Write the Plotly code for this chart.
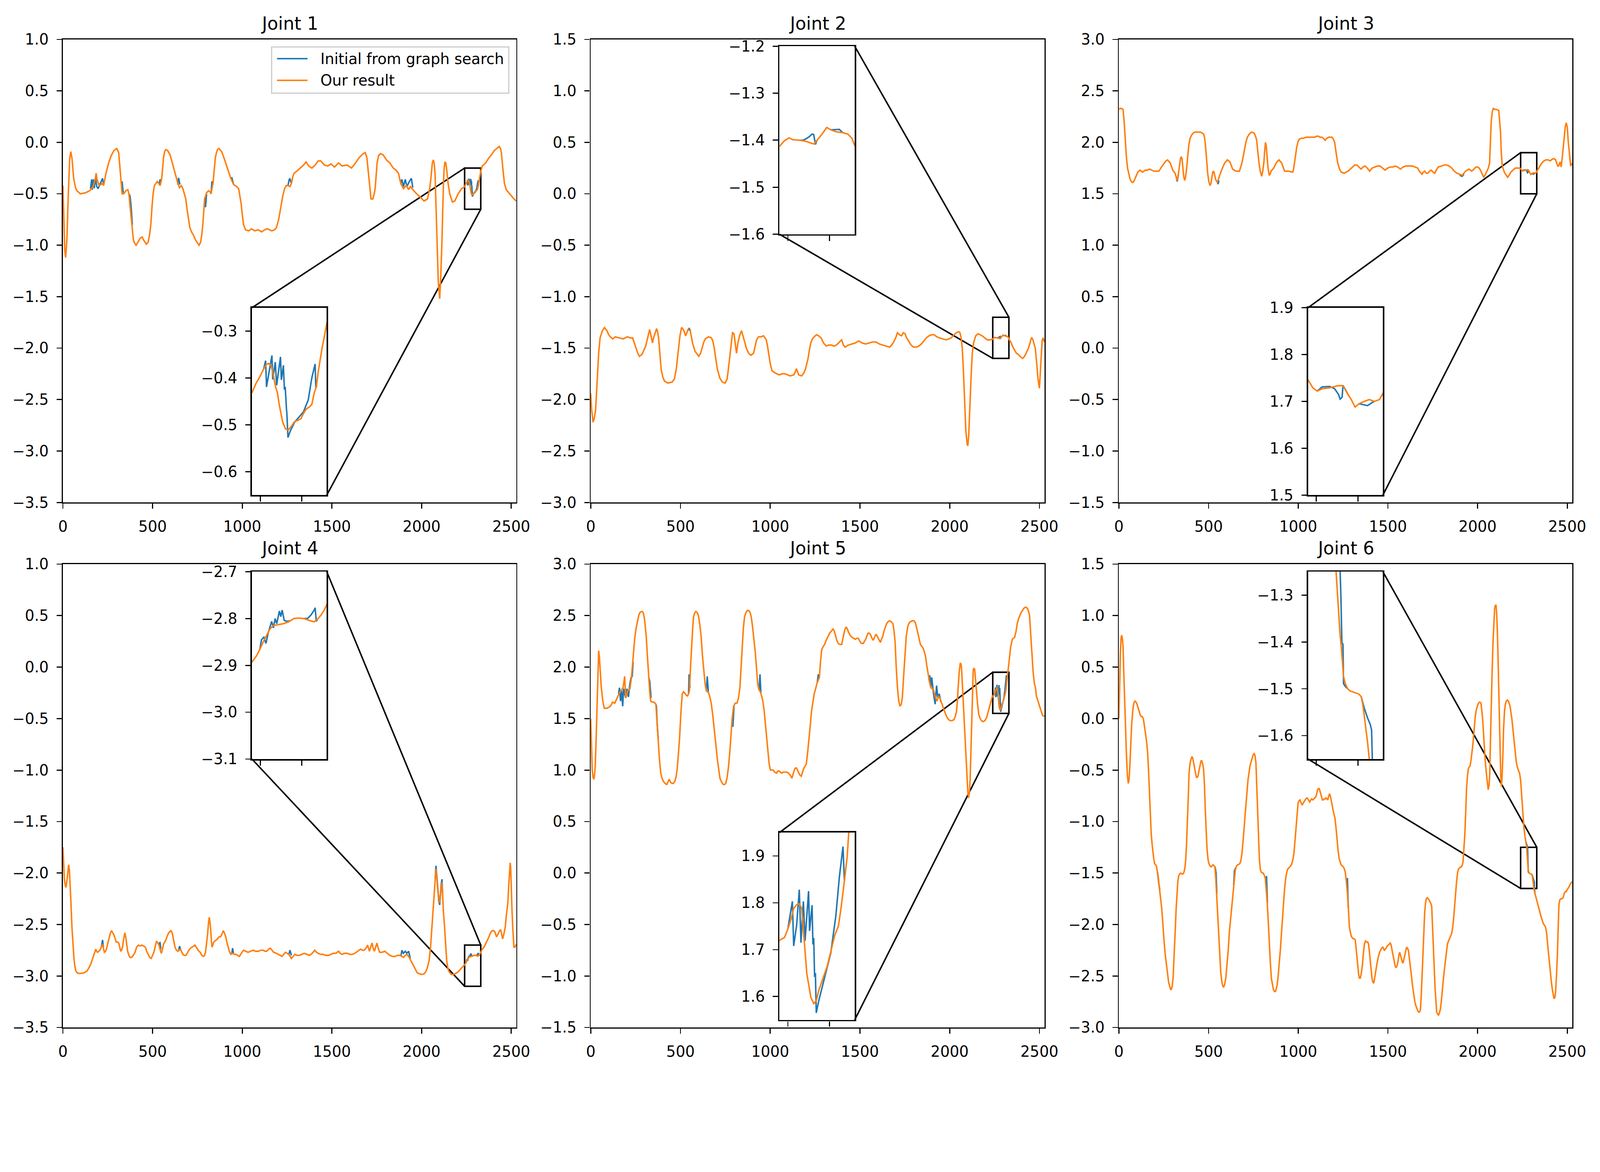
import plotly.graph_objects as go

# matplotlib default colours
C_INIT = '#1f77b4'
C_OURS = '#ff7f0e'

# ---------------- Joint 1 ----------------
j1_ours = [(0,-0.42),(5,-0.75),(10,-1.05),(15,-1.12),(22,-0.95),(30,-0.5),(38,-0.15),(44,-0.09),(50,-0.15),(60,-0.35),
    (70,-0.44),(78,-0.47),(97,-0.5),(126,-0.49),(149,-0.47),(160,-0.45),(170,-0.42),(180,-0.36),(185,-0.3),(190,-0.36),
    (202,-0.42),(212,-0.41),(221,-0.4),(227,-0.42),(240,-0.3),(255,-0.2),(269,-0.13),(284,-0.08),(294,-0.065),(300,-0.06),
    (311,-0.1),(320,-0.3),(330,-0.5),(339,-0.5),(351,-0.47),(362,-0.46),(368,-0.5),(376,-0.65),(385,-0.8),(393,-0.95),
    (400,-0.98),(408,-1.0),(418,-0.97),(431,-0.93),(442,-0.92),(450,-0.95),(465,-0.99),(475,-0.97),(483,-0.9),(490,-0.8),
    (497,-0.62),(503,-0.5),(510,-0.42),(517,-0.4),(526,-0.38),(534,-0.4),(542,-0.42),(551,-0.35),(556,-0.25),(561,-0.15),
    (567,-0.09),(574,-0.07),(584,-0.08),(597,-0.12),(610,-0.2),(625,-0.3),(641,-0.4),(650,-0.44),(660,-0.42),(669,-0.45),
    (677,-0.5),(685,-0.55),(692,-0.65),(700,-0.75),(708,-0.83),(717,-0.87),(727,-0.9),(740,-0.95),(750,-0.98),(759,-1.0),
    (768,-0.97),(774,-0.9),(780,-0.8),(785,-0.67),(790,-0.55),(801,-0.49),(812,-0.47),(820,-0.48),(826,-0.5),(831,-0.45),
    (837,-0.4),(843,-0.28),(850,-0.15),(856,-0.1),(862,-0.07),(870,-0.06),(885,-0.09),(898,-0.15),(917,-0.25),(936,-0.35),
    (952,-0.41),(969,-0.43),(980,-0.45),(987,-0.52),(994,-0.6),(1000,-0.7),(1007,-0.8),(1018,-0.85),(1037,-0.86),(1051,-0.84),
    (1070,-0.86),(1089,-0.85),(1108,-0.87),(1125,-0.85),(1140,-0.84),(1165,-0.86),(1180,-0.85),(1190,-0.83),(1203,-0.75),
    (1210,-0.68),(1217,-0.6),(1226,-0.52),(1236,-0.45),(1246,-0.42),(1255,-0.42),(1266,-0.43),(1274,-0.4),(1282,-0.33),
    (1289,-0.3),(1304,-0.28),(1323,-0.25),(1342,-0.22),(1356,-0.19),(1371,-0.23),(1388,-0.25),(1407,-0.22),(1423,-0.18),
    (1438,-0.18),(1457,-0.22),(1476,-0.23),(1495,-0.21),(1514,-0.24),(1537,-0.2),(1556,-0.23),(1585,-0.22),(1609,-0.25),
    (1632,-0.2),(1651,-0.15),(1674,-0.11),(1686,-0.1),(1695,-0.15),(1702,-0.28),(1709,-0.4),(1718,-0.55),(1728,-0.55),
    (1736,-0.5),(1741,-0.45),(1747,-0.3),(1752,-0.2),(1760,-0.13),(1770,-0.11),(1785,-0.12),(1804,-0.17),(1823,-0.2),
    (1842,-0.25),(1857,-0.27),(1871,-0.3),(1884,-0.4),(1899,-0.45),(1915,-0.42),(1928,-0.46),(1937,-0.43),(1957,-0.47),
    (1972,-0.5),(1991,-0.53),(2014,-0.57),(2033,-0.55),(2045,-0.45),(2052,-0.35),(2060,-0.2),(2065,-0.17),(2070,-0.2),
    (2075,-0.3),(2080,-0.6),(2086,-1.0),(2093,-1.35),(2101,-1.52),(2107,-1.3),(2113,-1.0),(2118,-0.65),(2122,-0.4),
    (2126,-0.25),(2130,-0.19),(2135,-0.2),(2139,-0.25),(2148,-0.4),(2157,-0.5),(2172,-0.58),(2185,-0.57),(2204,-0.5),
    (2223,-0.45),(2232,-0.44),(2240,-0.431),(2245.5,-0.409),(2247.6,-0.4035),(2251,-0.392),(2254,-0.381),(2257.5,-0.371),
    (2260,-0.369),(2263,-0.374),(2265,-0.387),(2268.4,-0.419),(2270.6,-0.431),(2272.8,-0.457),(2275,-0.479),(2277,-0.4945),
    (2280.4,-0.5087),(2283.7,-0.511),(2287,-0.504),(2291.3,-0.493),(2295.7,-0.49),(2299,-0.4866),(2302,-0.4756),
    (2305.5,-0.466),(2309,-0.462),(2312,-0.4566),(2315,-0.431),(2317.5,-0.419),(2319.7,-0.387),(2324,-0.34),(2330,-0.284),
    (2338,-0.23),(2357,-0.2),(2376,-0.15),(2390,-0.12),(2405,-0.08),(2420,-0.06),(2433,-0.04),(2440,-0.06),(2445,-0.1),
    (2453,-0.25),(2462,-0.4),(2472,-0.46),(2481,-0.48),(2491,-0.5),(2500,-0.52),(2515,-0.55),(2528,-0.57)]
j1_init = [
    [(154,-0.45),(160,-0.36),(164,-0.46),(170,-0.36),(175,-0.445),(181,-0.345),(189,-0.43),(196,-0.45),(206,-0.41),
     (215,-0.37),(221,-0.35),(227,-0.42)],
    [(326,-0.42),(330,-0.38),(336,-0.49)],
    [(368,-0.5),(374,-0.52),(380,-0.62),(387,-0.8)],
    [(536,-0.41),(542,-0.36),(548,-0.38)],
    [(640,-0.41),(645,-0.345),(652,-0.41)],
    [(790,-0.55),(795,-0.63),(801,-0.5)],
    [(826,-0.5),(831,-0.38),(837,-0.4)],
    [(936,-0.35),(942,-0.345),(952,-0.41)],
    [(1255,-0.42),(1262,-0.36),(1266,-0.355),(1274,-0.4)],
    [(1884,-0.4),(1890,-0.36),(1899,-0.43),(1909,-0.36),(1918,-0.43),(1932,-0.38),(1943,-0.35),(1951,-0.44)],
    [(2254,-0.381),(2256.4,-0.363),(2257.5,-0.419),(2264,-0.352),(2265,-0.403),(2268,-0.366),(2269.7,-0.4155),
     (2274.3,-0.355),(2275.4,-0.404),(2277.8,-0.373),(2279,-0.425),(2280,-0.419),(2281.5,-0.466),(2282,-0.4756),
     (2283.3,-0.527),(2286,-0.5136),(2291.3,-0.4945),(2302,-0.472),(2307.7,-0.447),(2312,-0.4),(2316,-0.37),
     (2316.8,-0.419),(2317.5,-0.419)],
]

# ---------------- Joint 2 ----------------
j2_ours = [(0,-1.94),(5,-2.1),(13,-2.22),(20,-2.18),(27,-2.1),(32,-1.95),(36,-1.8),(44,-1.55),(52,-1.4),(65,-1.33),
    (76,-1.3),(90,-1.33),(100,-1.37),(109,-1.39),(122,-1.41),(137,-1.39),(157,-1.4),(180,-1.41),(204,-1.39),(220,-1.4),
    (233,-1.4),(243,-1.45),(252,-1.5),(262,-1.55),(271,-1.58),(286,-1.56),(306,-1.48),(319,-1.38),(328,-1.32),(336,-1.38),
    (344,-1.45),(350,-1.4),(357,-1.36),(367,-1.31),(372,-1.34),(378,-1.4),(385,-1.55),(392,-1.7),(401,-1.78),(411,-1.82),
    (430,-1.84),(453,-1.83),(466,-1.8),(477,-1.7),(483,-1.6),(489,-1.5),(497,-1.38),(506,-1.3),(512,-1.31),(519,-1.33),
    (529,-1.38),(542,-1.32),(554,-1.33),(560,-1.38),(567,-1.45),(581,-1.53),(602,-1.58),(612,-1.55),(621,-1.5),(630,-1.44),
    (638,-1.41),(657,-1.39),(672,-1.4),(680,-1.43),(688,-1.5),(696,-1.6),(705,-1.7),(719,-1.79),(733,-1.83),(749,-1.84),
    (760,-1.8),(767,-1.7),(773,-1.6),(782,-1.45),(790,-1.35),(798,-1.36),(805,-1.45),(812,-1.55),(820,-1.45),(829,-1.38),
    (840,-1.33),(852,-1.4),(867,-1.5),(880,-1.55),(892,-1.57),(907,-1.55),(916,-1.48),(924,-1.42),(935,-1.39),(949,-1.39),
    (963,-1.38),(978,-1.42),(985,-1.48),(991,-1.55),(1000,-1.65),(1010,-1.72),(1026,-1.74),(1038,-1.75),(1050,-1.76),
    (1065,-1.75),(1083,-1.75),(1097,-1.76),(1111,-1.77),(1131,-1.76),(1140,-1.73),(1146,-1.7),(1152,-1.73),(1159,-1.76),
    (1175,-1.77),(1188,-1.74),(1197,-1.7),(1204,-1.65),(1211,-1.6),(1218,-1.52),(1226,-1.45),(1235,-1.41),(1245,-1.39),
    (1258,-1.37),(1270,-1.38),(1283,-1.4),(1297,-1.45),(1312,-1.48),(1326,-1.47),(1341,-1.47),(1355,-1.48),(1369,-1.47),
    (1385,-1.44),(1398,-1.42),(1408,-1.47),(1417,-1.49),(1436,-1.47),(1455,-1.46),(1474,-1.45),(1493,-1.43),(1512,-1.45),
    (1532,-1.46),(1550,-1.45),(1570,-1.44),(1589,-1.44),(1608,-1.46),(1627,-1.47),(1646,-1.48),(1665,-1.49),(1677,-1.47),
    (1688,-1.44),(1699,-1.4),(1709,-1.35),(1720,-1.37),(1732,-1.38),(1742,-1.35),(1751,-1.36),(1760,-1.4),(1770,-1.43),
    (1785,-1.47),(1799,-1.49),(1814,-1.49),(1828,-1.48),(1842,-1.46),(1856,-1.43),(1870,-1.4),(1885,-1.38),(1900,-1.37),
    (1914,-1.37),(1928,-1.39),(1942,-1.4),(1961,-1.41),(1981,-1.42),(1995,-1.41),(2009,-1.4),(2024,-1.37),(2038,-1.35),
    (2050,-1.34),(2057,-1.35),(2064,-1.4),(2070,-1.5),(2076,-1.7),(2082,-2.0),(2090,-2.3),(2097,-2.43),(2101,-2.45),
    (2106,-2.35),(2110,-2.15),(2114,-2.0),(2120,-1.75),(2126,-1.55),(2133,-1.45),(2145,-1.38),(2158,-1.36),(2170,-1.37),
    (2181,-1.38),(2195,-1.4),(2210,-1.42),(2225,-1.42),(2233,-1.415),(2240,-1.413),(2246,-1.401),(2251.5,-1.395),
    (2256,-1.399),(2264.5,-1.4),(2272.7,-1.403),(2279,-1.407),(2281.7,-1.408),(2285,-1.4),(2291,-1.387),(2296.5,-1.373),
    (2301.4,-1.378),(2307.5,-1.382),(2315.7,-1.384),(2321.8,-1.387),(2326.7,-1.396),(2330,-1.411),(2336,-1.43),
    (2343,-1.45),(2352,-1.49),(2362,-1.52),(2372,-1.55),(2381,-1.56),(2392,-1.58),(2406,-1.6),(2413,-1.59),(2420,-1.57),
    (2430,-1.53),(2439,-1.5),(2448,-1.45),(2453,-1.41),(2458,-1.4),(2464,-1.42),(2470,-1.46),(2477,-1.5),(2485,-1.65),
    (2492,-1.8),(2500,-1.89),(2506,-1.7),(2511,-1.5),(2515,-1.43),(2520,-1.4),(2528,-1.44)]
j2_init = [
    [(540,-1.33),(548,-1.31),(556,-1.33)],
    [(2264.5,-1.4),(2268.6,-1.4),(2272.7,-1.396),(2276,-1.392),(2279,-1.387),(2281,-1.388),(2283,-1.409),(2285,-1.4)],
    [(2301.4,-1.378),(2307.5,-1.377),(2311.6,-1.377),(2315.7,-1.384)],
]

# ---------------- Joint 3 ----------------
j3_ours = [(0,2.32),(6,2.33),(13,2.33),(23,2.32),(29,2.2),(36,2.0),(42,1.85),(48,1.75),(55,1.69),(61,1.65),(68,1.62),
    (76,1.61),(83,1.62),(90,1.65),(98,1.68),(105,1.71),(118,1.73),(132,1.71),(147,1.73),(160,1.73),(170,1.74),(182,1.73),
    (195,1.72),(210,1.72),(223,1.72),(237,1.76),(252,1.8),(262,1.82),(271,1.83),(286,1.8),(300,1.73),(313,1.7),(320,1.66),
    (325,1.63),(332,1.7),(338,1.78),(344,1.85),(348,1.86),(352,1.84),(356,1.76),(362,1.66),(367,1.63),(371,1.66),(376,1.72),
    (383,1.86),(390,1.98),(397,2.04),(405,2.07),(414,2.09),(424,2.1),(440,2.1),(453,2.1),(465,2.09),(472,2.08),(477,2.05),
    (481,2.0),(488,1.85),(495,1.7),(501,1.62),(508,1.58),(513,1.6),(518,1.66),(523,1.71),(529,1.72),(534,1.68),(539,1.64),
    (548,1.61),(555,1.64),(562,1.68),(570,1.72),(577,1.75),(590,1.8),(605,1.83),(619,1.81),(627,1.77),(634,1.74),(653,1.72),
    (672,1.72),(686,1.8),(693,1.87),(701,1.95),(708,2.0),(716,2.05),(727,2.08),(739,2.1),(754,2.09),(762,2.06),(768,2.02),
    (775,1.9),(781,1.8),(788,1.72),(796,1.67),(802,1.72),(808,1.8),(812,1.9),(817,2.0),(821,1.97),(825,1.9),(831,1.76),
    (838,1.68),(843,1.69),(848,1.72),(863,1.75),(877,1.8),(892,1.83),(907,1.8),(915,1.76),(924,1.72),(945,1.72),(968,1.71),
    (973,1.73),(978,1.78),(984,1.86),(991,1.95),(998,2.0),(1005,2.03),(1017,2.04),(1029,2.04),(1045,2.05),(1064,2.05),
    (1078,2.05),(1092,2.05),(1102,2.06),(1112,2.06),(1122,2.05),(1131,2.05),(1140,2.04),(1150,2.02),(1160,2.04),(1170,2.05),
    (1180,2.05),(1188,2.05),(1196,2.03),(1203,2.0),(1211,1.9),(1220,1.8),(1230,1.74),(1240,1.71),(1255,1.7),(1266,1.71),
    (1278,1.72),(1290,1.74),(1303,1.76),(1315,1.78),(1327,1.78),(1338,1.76),(1350,1.74),(1361,1.76),(1373,1.77),(1385,1.75),
    (1398,1.72),(1412,1.75),(1427,1.76),(1441,1.77),(1456,1.77),(1470,1.75),(1484,1.73),(1498,1.75),(1513,1.76),(1527,1.76),
    (1541,1.77),(1555,1.76),(1570,1.74),(1584,1.76),(1599,1.77),(1618,1.77),(1637,1.77),(1651,1.76),(1666,1.75),(1675,1.72),
    (1684,1.7),(1690,1.69),(1697,1.71),(1705,1.72),(1714,1.7),(1723,1.7),(1732,1.72),(1742,1.73),(1752,1.71),(1761,1.7),
    (1770,1.73),(1780,1.76),(1799,1.77),(1814,1.78),(1828,1.78),(1842,1.77),(1856,1.75),(1870,1.72),(1885,1.7),(1900,1.69),
    (1914,1.68),(1924,1.7),(1933,1.72),(1952,1.74),(1967,1.72),(1980,1.74),(1990,1.76),(2000,1.76),(2009,1.75),(2016,1.73),
    (2023,1.7),(2034,1.66),(2044,1.69),(2053,1.72),(2060,1.75),(2067,1.8),(2072,2.0),(2076,2.2),(2082,2.3),(2088,2.33),
    (2098,2.32),(2105,2.32),(2118,2.31),(2123,2.2),(2128,2.1),(2132,1.9),(2137,1.78),(2145,1.73),(2152,1.7),(2160,1.68),
    (2168,1.66),(2176,1.68),(2185,1.71),(2197,1.73),(2210,1.75),(2225,1.75),(2233,1.75),(2240,1.746),(2245.8,1.729),
    (2251,1.722),(2257,1.727),(2266,1.729),(2274.5,1.733),(2281,1.734),(2283.6,1.729),(2288,1.715),(2292,1.704),
    (2296.5,1.688),(2301.4,1.695),(2307.5,1.7),(2313.6,1.704),(2319.7,1.7),(2325.9,1.704),(2330,1.717),(2343,1.76),
    (2351,1.78),(2359,1.8),(2370,1.82),(2382,1.83),(2393,1.83),(2404,1.82),(2412,1.83),(2420,1.84),(2428,1.84),(2435,1.83),
    (2443,1.79),(2448,1.77),(2452,1.77),(2457,1.8),(2460,1.81),(2463,1.79),(2466,1.76),(2472,1.85),(2477,1.95),(2483,2.05),
    (2489,2.15),(2494,2.19),(2500,2.15),(2506,2.0),(2512,1.88),(2519,1.77),(2528,1.8)]
j3_init = [
    [(320,1.66),(325,1.62),(332,1.69)],
    [(548,1.6),(553,1.6),(558,1.63)],
    [(1900,1.68),(1914,1.67),(1924,1.69)],
    [(2251,1.722),(2257,1.731),(2266,1.732),(2272,1.727),(2276.6,1.715),(2278.6,1.705),(2281,1.709),(2282,1.734),
     (2285,1.725),(2289,1.712)],
    [(2301.4,1.695),(2307.5,1.693),(2311.6,1.691),(2316.5,1.697),(2319.7,1.7)],
]

# ---------------- Joint 4 ----------------
j4_ours = [(0,-1.75),(4,-1.9),(8,-2.06),(13,-2.12),(17,-2.14),(22,-2.08),(27,-1.99),(32,-1.92),(36,-1.97),(40,-2.09),
    (45,-2.3),(50,-2.52),(55,-2.68),(61,-2.82),(66,-2.9),(72,-2.95),(80,-2.97),(88,-2.975),(100,-2.975),(116,-2.97),
    (126,-2.96),(135,-2.95),(145,-2.92),(154,-2.89),(162,-2.85),(170,-2.81),(176,-2.77),(183,-2.74),(188,-2.76),(193,-2.77),
    (200,-2.76),(206,-2.75),(214,-2.72),(221,-2.69),(226,-2.73),(231,-2.77),(238,-2.76),(244,-2.73),(252,-2.67),(259,-2.62),
    (265,-2.58),(271,-2.56),(277,-2.58),(284,-2.6),(290,-2.63),(297,-2.67),(304,-2.67),(311,-2.68),(317,-2.72),(322,-2.76),
    (327,-2.75),(332,-2.72),(338,-2.65),(345,-2.58),(350,-2.62),(355,-2.69),(361,-2.76),(368,-2.8),(375,-2.82),(383,-2.82),
    (392,-2.8),(402,-2.77),(411,-2.72),(421,-2.7),(430,-2.71),(440,-2.7),(450,-2.71),(460,-2.72),(467,-2.76),(475,-2.79),
    (484,-2.82),(492,-2.83),(500,-2.8),(507,-2.77),(514,-2.72),(522,-2.66),(529,-2.68),(536,-2.7),(543,-2.75),(549,-2.78),
    (555,-2.74),(561,-2.69),(568,-2.67),(574,-2.65),(580,-2.62),(587,-2.59),(595,-2.57),(603,-2.56),(609,-2.58),(614,-2.62),
    (620,-2.67),(625,-2.72),(633,-2.75),(641,-2.76),(648,-2.75),(656,-2.74),(663,-2.77),(669,-2.79),(677,-2.8),(685,-2.8),
    (693,-2.78),(702,-2.75),(711,-2.73),(721,-2.72),(729,-2.71),(736,-2.7),(744,-2.72),(751,-2.74),(758,-2.76),(765,-2.77),
    (775,-2.8),(784,-2.81),(790,-2.8),(795,-2.77),(800,-2.7),(807,-2.59),(812,-2.48),(816,-2.43),(820,-2.48),(824,-2.55),
    (828,-2.66),(831,-2.72),(836,-2.7),(841,-2.67),(848,-2.66),(854,-2.65),(862,-2.64),(870,-2.62),(877,-2.62),(883,-2.61),
    (889,-2.58),(894,-2.56),(900,-2.58),(908,-2.62),(914,-2.67),(921,-2.72),(928,-2.76),(936,-2.79),(946,-2.78),(955,-2.79),
    (965,-2.79),(975,-2.8),(984,-2.81),(995,-2.78),(1007,-2.75),(1020,-2.76),(1032,-2.77),(1046,-2.76),(1060,-2.75),
    (1075,-2.76),(1089,-2.76),(1103,-2.75),(1117,-2.75),(1127,-2.76),(1136,-2.76),(1147,-2.74),(1156,-2.73),(1166,-2.75),
    (1175,-2.77),(1190,-2.78),(1203,-2.79),(1212,-2.8),(1222,-2.81),(1232,-2.79),(1241,-2.77),(1250,-2.78),(1260,-2.79),
    (1267,-2.81),(1274,-2.83),(1284,-2.81),(1293,-2.79),(1305,-2.8),(1318,-2.8),(1332,-2.79),(1346,-2.78),(1360,-2.79),
    (1375,-2.8),(1390,-2.78),(1404,-2.75),(1414,-2.77),(1423,-2.78),(1437,-2.79),(1451,-2.79),(1465,-2.8),(1480,-2.8),
    (1494,-2.79),(1508,-2.78),(1522,-2.78),(1537,-2.76),(1547,-2.78),(1556,-2.79),(1570,-2.78),(1585,-2.78),(1599,-2.79),
    (1613,-2.79),(1628,-2.78),(1642,-2.76),(1651,-2.75),(1661,-2.74),(1670,-2.75),(1680,-2.75),(1690,-2.73),(1699,-2.7),
    (1704,-2.73),(1709,-2.76),(1716,-2.72),(1724,-2.68),(1730,-2.73),(1737,-2.76),(1744,-2.72),(1751,-2.68),(1758,-2.73),
    (1766,-2.77),(1780,-2.77),(1795,-2.76),(1809,-2.78),(1823,-2.8),(1838,-2.81),(1852,-2.81),(1866,-2.8),(1880,-2.8),
    (1890,-2.81),(1899,-2.82),(1909,-2.8),(1918,-2.79),(1928,-2.81),(1937,-2.84),(1947,-2.87),(1957,-2.9),(1966,-2.93),
    (1976,-2.97),(1990,-2.98),(2004,-2.985),(2014,-2.98),(2023,-2.96),(2032,-2.92),(2042,-2.85),(2050,-2.72),(2057,-2.55),
    (2064,-2.35),(2071,-2.19),(2076,-2.05),(2080,-1.96),(2085,-2.05),(2090,-2.16),(2096,-2.24),(2101,-2.29),(2106,-2.2),
    (2110,-2.12),(2113,-2.09),(2117,-2.2),(2122,-2.38),(2128,-2.52),(2134,-2.7),(2140,-2.85),(2146,-2.92),(2151,-2.95),
    (2158,-2.97),(2166,-2.985),(2175,-2.985),(2185,-2.98),(2195,-2.97),(2204,-2.96),(2214,-2.94),(2223,-2.92),(2232,-2.905),
    (2240,-2.893),(2245.3,-2.88),(2249.4,-2.866),(2253.5,-2.85),(2257.6,-2.836),(2261.7,-2.822),(2265.8,-2.815),
    (2272,-2.813),(2278,-2.811),(2284,-2.807),(2290.3,-2.8),(2296.5,-2.799),(2302.6,-2.8),(2308.7,-2.804),(2314.9,-2.807),
    (2319,-2.801),(2323,-2.793),(2327,-2.782),(2330,-2.771),(2338,-2.74),(2348,-2.72),(2357,-2.69),(2366,-2.66),(2373,-2.63),
    (2380,-2.6),(2388,-2.57),(2395,-2.56),(2402,-2.56),(2408,-2.57),(2413,-2.6),(2418,-2.62),(2424,-2.6),(2429,-2.58),
    (2435,-2.56),(2441,-2.55),(2446,-2.6),(2452,-2.64),(2458,-2.6),(2463,-2.55),(2467,-2.52),(2472,-2.42),(2477,-2.35),
    (2481,-2.29),(2485,-2.15),(2490,-1.99),(2494,-1.9),(2497,-1.95),(2500,-2.15),(2504,-2.35),(2509,-2.55),(2515,-2.72),
    (2521,-2.72),(2528,-2.69)]
j4_init = [
    [(214,-2.72),(221,-2.65),(226,-2.72)],
    [(536,-2.7),(541,-2.67),(546,-2.74)],
    [(646,-2.75),(650,-2.71),(656,-2.74)],
    [(941,-2.79),(946,-2.73),(951,-2.78)],
    [(1260,-2.79),(1266,-2.75),(1274,-2.8)],
    [(1885,-2.81),(1890,-2.75),(1899,-2.78),(1909,-2.76),(1918,-2.78),(1928,-2.76),(1937,-2.83)],
    [(2076,-2.05),(2080,-1.93),(2085,-2.03),(2090,-2.15),(2096,-2.27),(2101,-2.31),(2106,-2.2),(2110,-2.1),(2114,-2.06),
     (2117,-2.2)],
    [(2249.4,-2.866),(2251.5,-2.845),(2254.3,-2.84),(2256.8,-2.853),(2259.6,-2.83),(2263.7,-2.806),(2265.8,-2.82),
     (2267.8,-2.8),(2269.8,-2.811),(2273,-2.784),(2274.7,-2.796),(2276.3,-2.782),(2278.8,-2.804),(2282,-2.806),
     (2286,-2.805)],
    [(2302.6,-2.8),(2306.7,-2.8),(2310.8,-2.793),(2314.9,-2.782),(2316,-2.777),(2317.4,-2.806),(2319,-2.801)],
]

# ---------------- Joint 5 ----------------
j5_ours = [(0,1.5),(4,1.2),(8,1.0),(13,0.93),(17,0.91),(21,0.95),(25,1.04),(30,1.3),(34,1.57),(39,1.9),(44,2.16),(48,2.1),
    (53,1.97),(58,1.82),(65,1.7),(70,1.64),(76,1.6),(90,1.6),(100,1.61),(109,1.62),(116,1.64),(122,1.66),(134,1.65),
    (147,1.7),(160,1.75),(172,1.78),(180,1.8),(185,1.86),(189,1.91),(192,1.8),(195,1.7),(200,1.73),(206,1.77),(218,1.79),
    (227,1.9),(233,2.03),(239,2.17),(245,2.28),(252,2.37),(260,2.45),(267,2.5),(274,2.53),(281,2.54),(288,2.54),(294,2.52),
    (300,2.46),(305,2.38),(309,2.3),(316,2.1),(323,1.9),(329,1.75),(334,1.67),(343,1.66),(351,1.66),(357,1.65),(363,1.64),
    (368,1.5),(372,1.38),(376,1.27),(383,1.1),(390,0.97),(397,0.92),(405,0.89),(414,0.87),(424,0.86),(430,0.88),(437,0.91),
    (445,0.88),(453,0.87),(460,0.87),(468,0.89),(475,0.93),(481,1.0),(488,1.15),(495,1.31),(502,1.55),(510,1.74),(517,1.76),
    (523,1.75),(531,1.73),(539,1.72),(545,1.74),(550,1.77),(556,2.0),(562,2.2),(568,2.38),(573,2.49),(580,2.53),(586,2.54),
    (593,2.53),(600,2.5),(607,2.42),(615,2.3),(622,2.12),(630,1.97),(637,1.84),(644,1.77),(650,1.76),(657,1.75),(665,1.7),
    (672,1.64),(680,1.53),(688,1.41),(697,1.25),(705,1.11),(713,1.0),(720,0.92),(730,0.88),(739,0.86),(746,0.86),(752,0.87),
    (760,0.93),(768,1.04),(775,1.18),(781,1.34),(788,1.5),(796,1.62),(805,1.65),(815,1.65),(823,1.7),(831,1.8),(838,2.0),
    (844,2.2),(850,2.37),(857,2.49),(865,2.53),(873,2.55),(881,2.55),(888,2.53),(895,2.48),(901,2.4),(909,2.27),(917,2.14),
    (924,1.98),(930,1.84),(937,1.78),(945,1.76),(952,1.72),(959,1.67),(966,1.58),(972,1.47),(980,1.32),(987,1.17),(994,1.06),
    (1001,1.0),(1008,1.0),(1016,1.0),(1025,0.98),(1035,0.97),(1042,0.99),(1050,0.99),(1057,0.98),(1064,0.97),(1073,0.98),
    (1083,0.98),(1092,0.98),(1102,0.97),(1112,0.95),(1121,0.92),(1127,0.96),(1134,1.0),(1140,1.02),(1146,1.02),(1152,1.0),
    (1159,0.97),(1166,0.95),(1173,0.94),(1180,0.98),(1188,1.02),(1195,1.04),(1201,1.06),(1209,1.18),(1217,1.31),(1224,1.45),
    (1230,1.57),(1238,1.67),(1245,1.74),(1253,1.79),(1260,1.84),(1267,1.87),(1274,1.9),(1280,2.05),(1287,2.17),(1295,2.2),
    (1303,2.22),(1312,2.26),(1322,2.3),(1331,2.33),(1341,2.35),(1350,2.37),(1357,2.35),(1364,2.3),(1371,2.26),(1379,2.23),
    (1388,2.22),(1398,2.22),(1403,2.26),(1408,2.3),(1415,2.36),(1423,2.39),(1430,2.37),(1436,2.34),(1445,2.31),(1455,2.29),
    (1465,2.28),(1474,2.27),(1482,2.28),(1490,2.28),(1497,2.26),(1503,2.24),(1510,2.23),(1518,2.23),(1525,2.25),(1532,2.27),
    (1538,2.3),(1545,2.33),(1552,2.33),(1560,2.31),(1567,2.28),(1574,2.26),(1581,2.29),(1589,2.32),(1596,2.3),(1602,2.28),
    (1608,2.26),(1614,2.24),(1620,2.27),(1627,2.3),(1634,2.35),(1641,2.39),(1648,2.42),(1656,2.44),(1665,2.45),(1675,2.44),
    (1684,2.42),(1690,2.35),(1696,2.24),(1702,2.0),(1709,1.8),(1716,1.67),(1723,1.62),(1730,1.64),(1736,1.7),(1743,1.9),
    (1751,2.14),(1758,2.3),(1767,2.4),(1775,2.43),(1780,2.44),(1793,2.45),(1801,2.45),(1809,2.43),(1816,2.38),(1824,2.32),
    (1830,2.27),(1837,2.22),(1845,2.2),(1853,2.18),(1860,2.14),(1866,2.1),(1872,2.02),(1879,1.94),(1887,1.86),(1895,1.8),
    (1901,1.79),(1908,1.79),(1913,1.75),(1918,1.72),(1924,1.69),(1929,1.67),(1934,1.7),(1939,1.72),(1944,1.7),(1948,1.69),
    (1953,1.66),(1958,1.64),(1965,1.6),(1971,1.57),(1978,1.54),(1986,1.51),(1994,1.49),(2003,1.48),(2013,1.48),(2024,1.49),
    (2031,1.52),(2038,1.57),(2043,1.67),(2047,1.8),(2053,1.95),(2059,2.04),(2063,2.03),(2066,1.99),(2070,1.85),(2074,1.72),
    (2078,1.64),(2083,1.45),(2089,1.24),(2093,1.05),(2097,0.91),(2101,0.79),(2105,0.73),(2110,0.78),(2114,0.91),(2119,1.2),
    (2124,1.47),(2128,1.75),(2131,1.97),(2135,1.99),(2139,1.98),(2144,1.88),(2149,1.77),(2155,1.65),(2162,1.54),(2170,1.5),
    (2177,1.48),(2186,1.47),(2196,1.48),(2206,1.51),(2215,1.57),(2222,1.62),(2229,1.67),(2235,1.7),(2240,1.72),(2246,1.726),
    (2250,1.744),(2254,1.766),(2257,1.788),(2260.5,1.796),(2263.7,1.798),(2266.6,1.788),(2268.6,1.744),(2270.6,1.7),
    (2272.7,1.649),(2274.8,1.627),(2277.6,1.598),(2281,1.585),(2284,1.591),(2287,1.613),(2291,1.634),(2297,1.664),
    (2302,1.7),(2306,1.73),(2310.6,1.751),(2313.6,1.788),(2317.7,1.847),(2321,1.898),(2323,1.953),(2330,2.04),(2340,2.2),
    (2349,2.27),(2362,2.29),(2370,2.35),(2376,2.42),(2384,2.47),(2391,2.5),(2398,2.53),(2406,2.55),(2413,2.57),(2420,2.58),
    (2427,2.58),(2433,2.57),(2440,2.54),(2445,2.5),(2451,2.35),(2458,2.17),(2465,1.95),(2472,1.84),(2478,1.8),(2483,1.72),
    (2490,1.68),(2496,1.65),(2503,1.6),(2510,1.57),(2518,1.53),(2528,1.52)]
j5_init = [
    [(155,1.74),(160,1.8),(166,1.67),(172,1.77),(178,1.62),(183,1.79),(189,1.74),(195,1.7),(202,1.79),(210,1.71),
     (218,1.84),(225,1.9),(231,1.91),(236,2.05)],
    [(323,1.9),(329,1.86),(336,1.7)],
    [(363,1.64),(366,1.62),(370,1.45),(376,1.3)],
    [(545,1.74),(548,1.93),(553,1.8)],
    [(644,1.77),(649,1.91),(655,1.76)],
    [(788,1.5),(792,1.42),(798,1.62)],
    [(938,1.78),(943,1.93),(948,1.75)],
    [(1262,1.85),(1268,1.93),(1273,1.89)],
    [(1884,1.87),(1889,1.92),(1895,1.8),(1900,1.9),(1910,1.74),(1919,1.64),(1927,1.82),(1934,1.7),(1942,1.74),(1951,1.66)],
    [(2250,1.744),(2255.4,1.803),(2257,1.708),(2260.5,1.752),(2263.7,1.828),(2265.7,1.715),(2268.6,1.803),(2270.6,1.719),
     (2274.8,1.825),(2276,1.74),(2279,1.795),(2280,1.711),(2281,1.725),(2282,1.642),(2283,1.65),(2284,1.565),(2287,1.591),
     (2291,1.62),(2301.4,1.693),(2307.5,1.773),(2311.6,1.854),(2316,1.92),(2317.7,1.847)],
]

# ---------------- Joint 6 ----------------
j6_ours = [(0,0.0),(4,0.35),(8,0.64),(12,0.78),(15,0.81),(19,0.78),(23,0.7),(27,0.45),(32,0.14),(37,-0.12),(42,-0.36),
    (47,-0.55),(52,-0.63),(56,-0.6),(61,-0.46),(66,-0.25),(71,-0.06),(76,0.05),(80,0.12),(85,0.16),(90,0.17),(95,0.16),
    (99,0.15),(106,0.11),(113,0.07),(118,0.04),(124,0.02),(130,0.02),(136,0.0),(142,-0.06),(147,-0.13),(154,-0.22),
    (160,-0.33),(165,-0.5),(170,-0.72),(175,-0.92),(180,-1.12),(185,-1.22),(189,-1.29),(194,-1.36),(199,-1.41),(205,-1.42),
    (210,-1.44),(215,-1.49),(220,-1.55),(224,-1.62),(229,-1.69),(234,-1.77),(239,-1.85),(244,-1.97),(248,-2.09),(253,-2.19),
    (258,-2.29),(265,-2.4),(271,-2.49),(277,-2.56),(283,-2.6),(288,-2.63),(292,-2.63),(297,-2.6),(302,-2.52),(306,-2.38),
    (311,-2.19),(315,-2.02),(319,-1.85),(323,-1.7),(328,-1.59),(333,-1.53),(338,-1.51),(345,-1.5),(351,-1.51),(357,-1.51),
    (363,-1.49),(368,-1.45),(372,-1.38),(377,-1.22),(382,-1.02),(387,-0.75),(391,-0.53),(397,-0.43),(403,-0.39),(407,-0.37),
    (411,-0.38),(416,-0.42),(420,-0.46),(426,-0.52),(432,-0.57),(437,-0.57),(441,-0.56),(447,-0.5),(453,-0.44),(458,-0.41),
    (462,-0.41),(467,-0.44),(472,-0.49),(477,-0.65),(481,-0.86),(486,-1.06),(491,-1.26),(497,-1.37),(502,-1.41),(508,-1.43),
    (514,-1.44),(520,-1.43),(525,-1.42),(530,-1.43),(535,-1.44),(540,-1.55),(544,-1.69),(549,-1.85),(554,-2.02),(558,-2.18),
    (563,-2.35),(568,-2.47),(575,-2.57),(580,-2.6),(584,-2.61),(590,-2.58),(596,-2.52),(602,-2.4),(609,-2.26),(616,-2.07),
    (625,-1.89),(631,-1.77),(638,-1.67),(644,-1.56),(649,-1.47),(656,-1.43),(663,-1.42),(674,-1.41),(680,-1.38),(686,-1.31),
    (692,-1.2),(697,-1.09),(703,-0.95),(709,-0.82),(714,-0.7),(720,-0.59),(726,-0.52),(731,-0.46),(737,-0.42),(743,-0.38),
    (749,-0.35),(754,-0.34),(759,-0.36),(764,-0.43),(768,-0.62),(773,-0.86),(778,-1.1),(783,-1.36),(788,-1.46),(793,-1.49),
    (799,-1.5),(804,-1.5),(810,-1.52),(816,-1.55),(821,-1.65),(827,-1.79),(833,-1.98),(838,-2.19),(844,-2.36),(850,-2.52),
    (855,-2.58),(861,-2.63),(867,-2.65),(873,-2.65),(878,-2.62),(882,-2.59),(888,-2.5),(894,-2.39),(900,-2.25),(905,-2.12),
    (911,-1.96),(917,-1.79),(923,-1.67),(930,-1.55),(936,-1.49),(942,-1.46),(947,-1.45),(953,-1.44),(958,-1.43),(964,-1.41),
    (970,-1.37),(976,-1.31),(981,-1.2),(987,-1.06),(993,-0.94),(999,-0.82),(1004,-0.8),(1010,-0.79),(1016,-0.82),
    (1022,-0.84),(1028,-0.82),(1035,-0.8),(1042,-0.78),(1049,-0.77),(1056,-0.79),(1064,-0.81),(1070,-0.79),(1075,-0.78),
    (1081,-0.79),(1087,-0.78),(1093,-0.77),(1098,-0.76),(1103,-0.73),(1108,-0.69),(1113,-0.68),(1117,-0.68),(1122,-0.71),
    (1129,-0.76),(1135,-0.79),(1140,-0.79),(1145,-0.78),(1150,-0.78),(1155,-0.77),(1159,-0.78),(1165,-0.79),(1170,-0.75),
    (1175,-0.73),(1180,-0.76),(1184,-0.79),(1189,-0.84),(1194,-0.89),(1200,-0.93),(1205,-0.97),(1211,-1.07),(1217,-1.19),
    (1222,-1.28),(1228,-1.36),(1234,-1.4),(1239,-1.42),(1245,-1.43),(1251,-1.44),(1257,-1.46),(1262,-1.49),(1268,-1.58),
    (1274,-1.69),(1280,-1.86),(1285,-2.02),(1291,-2.08),(1297,-2.12),(1302,-2.13),(1308,-2.14),(1313,-2.14),(1318,-2.15),
    (1322,-2.22),(1327,-2.32),(1332,-2.42),(1337,-2.49),(1341,-2.52),(1346,-2.52),(1351,-2.48),(1358,-2.39),(1363,-2.28),
    (1369,-2.19),(1375,-2.16),(1381,-2.17),(1387,-2.17),(1392,-2.19),(1397,-2.27),(1402,-2.35),(1407,-2.45),(1411,-2.52),
    (1416,-2.56),(1421,-2.57),(1426,-2.52),(1432,-2.45),(1439,-2.38),(1446,-2.32),(1452,-2.28),(1459,-2.25),(1465,-2.23),
    (1471,-2.22),(1476,-2.24),(1480,-2.25),(1485,-2.24),(1490,-2.23),(1496,-2.21),(1503,-2.2),(1508,-2.19),(1513,-2.18),
    (1518,-2.2),(1522,-2.24),(1528,-2.3),(1534,-2.35),(1540,-2.4),(1545,-2.42),(1551,-2.4),(1557,-2.35),(1562,-2.29),
    (1566,-2.27),(1571,-2.3),(1576,-2.34),(1581,-2.37),(1585,-2.37),(1590,-2.33),(1595,-2.29),(1600,-2.24),(1604,-2.22),
    (1609,-2.23),(1614,-2.25),(1619,-2.32),(1623,-2.37),(1630,-2.48),(1637,-2.59),(1644,-2.68),(1650,-2.75),(1656,-2.79),
    (1662,-2.82),(1667,-2.84),(1671,-2.85),(1676,-2.85),(1681,-2.83),(1685,-2.72),(1690,-2.52),(1695,-2.28),(1700,-2.02),
    (1705,-1.88),(1710,-1.79),(1714,-1.75),(1719,-1.74),(1725,-1.75),(1732,-1.77),(1738,-1.79),(1744,-1.82),(1748,-1.97),
    (1753,-2.19),(1758,-2.41),(1763,-2.62),(1768,-2.76),(1772,-2.85),(1777,-2.87),(1782,-2.88),(1787,-2.86),(1793,-2.82),
    (1798,-2.74),(1804,-2.62),(1811,-2.5),(1818,-2.39),(1825,-2.29),(1832,-2.19),(1838,-2.16),(1843,-2.14),(1849,-2.12),
    (1855,-2.09),(1861,-2.03),(1866,-1.95),(1872,-1.82),(1877,-1.69),(1883,-1.58),(1889,-1.49),(1894,-1.46),(1900,-1.45),
    (1905,-1.44),(1910,-1.44),(1915,-1.42),(1919,-1.39),(1924,-1.27),(1929,-1.12),(1934,-0.9),(1938,-0.69),(1943,-0.57),
    (1948,-0.49),(1953,-0.47),(1958,-0.46),(1962,-0.42),(1967,-0.36),(1972,-0.28),(1977,-0.19),(1981,-0.1),(1986,0.0),
    (1991,0.07),(1996,0.11),(2000,0.13),(2005,0.15),(2012,0.16),(2019,0.15),(2024,0.08),(2028,0.0),(2033,-0.14),(2038,-0.29),
    (2043,-0.42),(2049,-0.53),(2054,-0.63),(2059,-0.69),(2064,-0.65),(2068,-0.53),(2072,-0.2),(2076,0.14),(2081,0.45),
    (2086,0.74),(2090,0.93),(2095,1.07),(2099,1.1),(2103,1.1),(2107,1.0),(2110,0.87),(2114,0.6),(2118,0.3),(2122,0.0),
    (2125,-0.33),(2129,-0.55),(2133,-0.66),(2137,-0.55),(2141,-0.36),(2145,-0.1),(2150,0.07),(2155,0.14),(2160,0.17),
    (2166,0.18),(2172,0.17),(2176,0.15),(2181,0.12),(2186,0.06),(2191,0.0),(2197,-0.1),(2204,-0.23),(2210,-0.33),(2215,-0.41),
    (2220,-0.46),(2225,-0.49),(2229,-0.51),(2234,-0.53),(2240,-0.6),(2246,-0.75),(2252,-0.92),(2258,-1.05),(2264,-1.14),
    (2270,-1.2),(2273.7,-1.249),(2275.8,-1.306),(2277.4,-1.357),(2278.6,-1.386),(2279.9,-1.408),(2281,-1.437),
    (2282.7,-1.474),(2284.8,-1.489),(2287.7,-1.5),(2291,-1.505),(2297,-1.509),(2301,-1.511),(2304,-1.517),(2305.8,-1.533),
    (2307.4,-1.555),(2309.5,-1.584),(2311.5,-1.613),(2313.6,-1.65),(2320,-1.7),(2330,-1.76),(2343,-1.85),(2355,-1.93),
    (2366,-1.99),(2378,-2.02),(2385,-2.08),(2391,-2.2),(2398,-2.33),(2405,-2.45),(2411,-2.55),(2416,-2.62),(2421,-2.68),
    (2426,-2.72),(2431,-2.71),(2435,-2.65),(2440,-2.5),(2445,-2.3),(2450,-2.0),(2454,-1.8),(2459,-1.76),(2464,-1.75),
    (2470,-1.75),(2477,-1.74),(2483,-1.7),(2489,-1.68),(2495,-1.68),(2500,-1.66),(2508,-1.64),(2516,-1.61),(2524,-1.59),
    (2528,-1.59)]
j6_init = [
    [(215,-1.49),(222,-1.6),(228,-1.66)],
    [(536,-1.44),(542,-1.5),(546,-1.7)],
    [(640,-1.62),(644,-1.48),(650,-1.45)],
    [(818,-1.57),(823,-1.53),(828,-1.79)],
    [(1268,-1.58),(1274,-1.55),(1279,-1.84)],
    [(2270,-1.2),(2276,-1.23),(2278.6,-1.25),(2279.5,-1.3),(2280.7,-1.401),(2282,-1.405),(2282.7,-1.489),(2284.8,-1.495),
     (2287.7,-1.5)],
    [(2304,-1.517),(2307.4,-1.54),(2311.5,-1.562),(2314.8,-1.576),(2316.4,-1.588),(2317.3,-1.65),(2320,-1.7)],
]

titles = ['Joint 1', 'Joint 2', 'Joint 3', 'Joint 4', 'Joint 5', 'Joint 6']
ours_all = [j1_ours, j2_ours, j3_ours, j4_ours, j5_ours, j6_ours]
init_all = [j1_init, j2_init, j3_init, j4_init, j5_init, j6_init]
legend_names = ['Initial from graph search', 'Our result']

# axis limits / ticks
main_xrange = [0, 2528]
main_xticks = [0, 500, 1000, 1500, 2000, 2500]
main_yranges = [[-3.5, 1.0], [-3.0, 1.5], [-1.5, 3.0], [-3.5, 1.0], [-1.5, 3.0], [-3.0, 1.5]]
zoom_xrange = [2240, 2330]
zoom_xticks = [2250, 2300]
zoom_yranges = [[-0.65, -0.25], [-1.6, -1.2], [1.5, 1.9], [-3.1, -2.7], [1.55, 1.95], [-1.65, -1.25]]
zoom_yticks = [[-0.6, -0.5, -0.4, -0.3], [-1.6, -1.5, -1.4, -1.3, -1.2], [1.5, 1.6, 1.7, 1.8, 1.9],
               [-3.1, -3.0, -2.9, -2.8, -2.7], [1.6, 1.7, 1.8, 1.9], [-1.6, -1.5, -1.4, -1.3]]

# layout (paper fractions of a 4500x3000 figure)
W, H = 4500, 3000
col_x = [[177 / W, 1452 / W], [1661.5 / W, 2937.5 / W], [3147 / W, 4422 / W]]
row_y = [[1 - 1413 / H, 1 - 111 / H], [1 - 2889.4 / H, 1 - 1586.5 / H]]
inset_x = [[708.7 / W, 919 / W], [2192.3 / W, 2403.8 / W], [3678.8 / W, 3889.4 / W]]
inset_y = [[1 - 1392.3 / H, 1 - 865.4 / H], [1 - 658.7 / H, 1 - 129.8 / H], [1 - 1392.3 / H, 1 - 865.4 / H],
           [1 - 2134.6 / H, 1 - 1607.7 / H], [1 - 2868.3 / H, 1 - 2341.3 / H], [1 - 2134.6 / H, 1 - 1607.7 / H]]
# which corners mark_inset joined
connect = [('tl', 'br'), ('tr', 'bl'), ('tl', 'br'), ('tr', 'bl'), ('tl', 'br'), ('tr', 'bl')]

FONT = 'DejaVu Sans'
LW = 4.2
tickfont = dict(family=FONT, size=42, color='black')
base_axis = dict(showline=True, mirror=True, linecolor='black', ticks='outside', tickcolor='black',
                 showgrid=False, zeroline=False, tickfont=tickfont, ticklabelstandoff=14, automargin=False)


def flat(segs):
    xs, ys = [], []
    for s in segs:
        for x, y in s:
            xs.append(x)
            ys.append(y)
        xs.append(None)
        ys.append(None)
    return xs, ys


def to_paper(dom, rng, v):
    return dom[0] + (v - rng[0]) / (rng[1] - rng[0]) * (dom[1] - dom[0])


def corner(c, xdom, ydom, xr, yr):
    x = xr[0] if c[1] == 'l' else xr[1]
    y = yr[1] if c[0] == 't' else yr[0]
    return to_paper(xdom, xr, x), to_paper(ydom, yr, y)


fig = go.Figure()
layout = dict(template='none', width=W, height=H, margin=dict(l=0, r=0, t=0, b=0, pad=0), paper_bgcolor='white',
              plot_bgcolor='rgba(0,0,0,0)', showlegend=False, font=dict(family=FONT, size=42, color='black'))
shapes, annotations = [], []

for k in range(6):
    m = k + 1
    z = k + 7
    mn = '' if m == 1 else str(m)
    xd = col_x[k % 3]
    yd = row_y[k // 3]
    ixd = inset_x[k % 3]
    iyd = inset_y[k]

    ox, oy = flat([ours_all[k]])
    bx, by = flat(init_all[k])
    for xa, ya in [('x' + mn, 'y' + mn), ('x%d' % z, 'y%d' % z)]:
        fig.add_trace(go.Scatter(x=bx, y=by, mode='lines', name=legend_names[0], xaxis=xa, yaxis=ya,
                                 line=dict(color=C_INIT, width=LW), connectgaps=False, hoverinfo='skip'))
        fig.add_trace(go.Scatter(x=ox, y=oy, mode='lines', name=legend_names[1], xaxis=xa, yaxis=ya,
                                 line=dict(color=C_OURS, width=LW), connectgaps=False, hoverinfo='skip'))

    yr = main_yranges[k]
    yt = [round(yr[0] + 0.5 * i, 1) for i in range(10)]
    layout['xaxis' + mn] = dict(base_axis, domain=xd, range=main_xrange, anchor='y' + mn, tickvals=main_xticks,
                                linewidth=3.3, ticklen=14.6, tickwidth=3.3)
    layout['yaxis' + mn] = dict(base_axis, domain=yd, range=yr, anchor='x' + mn, tickvals=yt, tickformat='.1f',
                                linewidth=3.3, ticklen=14.6, tickwidth=3.3)
    zr = zoom_yranges[k]
    layout['xaxis%d' % z] = dict(base_axis, domain=ixd, range=zoom_xrange, anchor='y%d' % z, tickvals=zoom_xticks,
                                 showticklabels=False, linewidth=4.2, ticklen=14.6, tickwidth=3.3)
    layout['yaxis%d' % z] = dict(base_axis, domain=iyd, range=zr, anchor='x%d' % z, tickvals=zoom_yticks[k],
                                 tickformat='.1f', linewidth=4.2, ticklen=14.6, tickwidth=3.3)

    # zoom rectangle on the parent axes
    shapes.append(dict(type='rect', xref='x' + mn, yref='y' + mn, x0=zoom_xrange[0], x1=zoom_xrange[1],
                       y0=zr[0], y1=zr[1], line=dict(color='black', width=4.2), layer='below'))
    # connector lines
    for c in connect[k]:
        rx = zoom_xrange[0] if c[1] == 'l' else zoom_xrange[1]
        ry = zr[1] if c[0] == 't' else zr[0]
        px0, py0 = to_paper(xd, main_xrange, rx), to_paper(yd, yr, ry)
        px1, py1 = corner(c, ixd, iyd, zoom_xrange, zr)
        shapes.append(dict(type='line', xref='paper', yref='paper', x0=px0, y0=py0, x1=px1, y1=py1,
                           line=dict(color='black', width=4.2), layer='below'))

    annotations.append(dict(text=titles[k], xref='paper', yref='paper', x=(xd[0] + xd[1]) / 2, y=yd[1],
                            xanchor='center', yanchor='bottom', yshift=14, showarrow=False,
                            font=dict(family=FONT, size=50, color='black')))

# legend box in Joint 1 (drawn by hand to get matplotlib-like handles)
shapes.append(dict(type='rect', xref='paper', yref='paper', x0=764 / W, x1=1431 / W, y0=1 - 262 / H, y1=1 - 132 / H,
                   line=dict(color='#cccccc', width=3.3), fillcolor='rgba(255,255,255,0.8)', layer='above'))
for name, col, yy in [(legend_names[0], C_INIT, 165), (legend_names[1], C_OURS, 226)]:
    shapes.append(dict(type='line', xref='paper', yref='paper', x0=779 / W, x1=865 / W, y0=1 - yy / H, y1=1 - yy / H,
                       line=dict(color=col, width=LW), layer='above'))
    annotations.append(dict(text=name, xref='paper', yref='paper', x=899 / W, y=1 - yy / H, xanchor='left',
                            yanchor='middle', showarrow=False, font=dict(family=FONT, size=42, color='black')))

layout['shapes'] = shapes
layout['annotations'] = annotations
fig.update_layout(**layout)

# the page viewport can be narrower than the 4500 px figure: scale the page so the whole figure fits
fit_js = ("document.body.style.margin='0';document.documentElement.style.margin='0';"
          "var s=Math.min(window.innerWidth/%d, window.innerHeight/%d);"
          "if(s<0.999){document.body.style.zoom=s;}" % (W, H))
fig.write_html('out.html', post_script=fit_js, config={'displayModeBar': False})
